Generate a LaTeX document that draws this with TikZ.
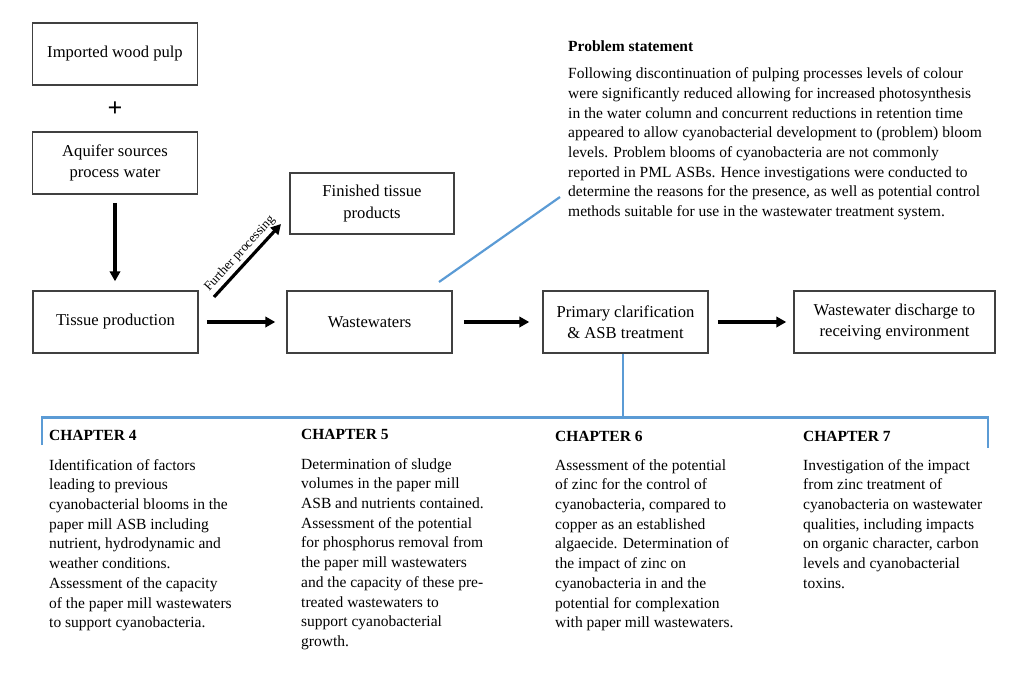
\documentclass[tikz,border=0pt]{standalone}
\usepackage{fontspec}
\setmainfont{Liberation Serif}
\usetikzlibrary{arrows.meta}
\definecolor{bluel}{HTML}{5B9BD5}
\definecolor{boxgray}{HTML}{404040}
\begin{document}
\begin{tikzpicture}[x=1pt,y=-1pt,
  procbox/.style={draw=boxgray,line width=1.5pt,align=center,inner sep=0pt,
    font=\fontsize{16.6}{21.5}\selectfont},
  flow/.style={line width=3.2pt,-{Triangle[length=10pt,width=10.5pt]}},
  blueline/.style={draw=bluel,line width=2.2pt},
  para/.style={anchor=north west,align=left,inner sep=0pt,
    font=\fontsize{15.5}{19.7}\selectfont},
  heading/.style={anchor=north west,inner sep=0pt,
    font=\fontsize{15.5}{19.7}\selectfont\bfseries}]
\useasboundingbox (0,0) rectangle (1027,674);

\node[procbox,minimum width=165pt,minimum height=62pt] (pulp) at (115,54) {Imported wood pulp};
\node[font=\fontsize{26}{26}\selectfont\bfseries] (plus) at (115,109) {+};
\node[procbox,minimum width=165pt,minimum height=62pt] (aquifer) at (115,163) {Aquifer sources\\process water};
\node[procbox,minimum width=165pt,minimum height=62pt] (tissue) at (115.5,322) {Tissue production};
\node[procbox,minimum width=164pt,minimum height=61pt] (finished) at (372,203.5) {Finished tissue\\products};
\node[procbox,minimum width=165pt,minimum height=62pt] (waste) at (369.5,322) {Wastewaters};
\node[procbox,minimum width=165pt,minimum height=62pt] (primary) at (625.5,322) {Primary clarification\\\& ASB treatment};
\node[procbox,minimum width=201pt,minimum height=62pt] (discharge) at (894.5,322) {Wastewater discharge to\\receiving environment};

\draw[flow,shorten <=8pt,shorten >=9pt] (aquifer.south) -- (aquifer.south |- tissue.north);
\draw[flow,shorten <=8pt,shorten >=11pt] (tissue) -- (waste);
\draw[flow,shorten <=11pt,shorten >=13pt] (waste) -- (primary);
\draw[flow,shorten <=9pt,shorten >=7pt] (primary) -- (discharge);

\coordinate (fp1) at (214,297);
\coordinate (fp2) at (281,224);
\draw[flow] (fp1) -- node[sloped,above=1.8pt,inner sep=1pt,font=\fontsize{13}{13}\selectfont] (fplabel) {Further processing} (fp2);

% problem statement
\node[heading] (pstitle) at (568,40.5) {Problem statement};
\node[para] (pstext) at (568,67.5) {Following discontinuation of pulping processes levels of colour\\
were significantly reduced allowing for increased photosynthesis\\
in the water column and concurrent reductions in retention time\\
appeared to allow cyanobacterial development to (problem) bloom\\
levels. Problem blooms of cyanobacteria are not commonly\\
reported in PML ASBs. Hence investigations were conducted to\\
determine the reasons for the presence, as well as potential control\\
methods suitable for use in the wastewater treatment system.};

\coordinate (ps1) at (439,282);
\coordinate (ps2) at (560,197);
\draw[blueline] (ps1) -- (ps2);

% bracket
\coordinate (brtop) at (623,417.5);
\coordinate (brl) at (42,417.5);
\coordinate (brr) at (988,417.5);
\coordinate (brlb) at (42,445);
\coordinate (brrb) at (988,448);
\draw[blueline] (primary.south -| brtop) -- (brtop);
\draw[blueline] (brlb) -- (brl) -- (brr) -- (brrb);

% chapters
\node[heading] (c4h) at (49,430.5) {CHAPTER 4};
\node[para] (c4t) at (49,459) {Identification of factors\\
leading to previous\\
cyanobacterial blooms in the\\
paper mill ASB including\\
nutrient, hydrodynamic and\\
weather conditions.\\
Assessment of the capacity\\
of the paper mill wastewaters\\
to support cyanobacteria.};

\node[heading] (c5h) at (301,429.5) {CHAPTER 5};
\node[para] (c5t) at (301,458) {Determination of sludge\\
volumes in the paper mill\\
ASB and nutrients contained.\\
Assessment of the potential\\
for phosphorus removal from\\
the paper mill wastewaters\\
and the capacity of these pre-\\
treated wastewaters to\\
support cyanobacterial\\
growth.};

\node[heading] (c6h) at (555,431) {CHAPTER 6};
\node[para] (c6t) at (555,459) {Assessment of the potential\\
of zinc for the control of\\
cyanobacteria, compared to\\
copper as an established\\
algaecide. Determination of\\
the impact of zinc on\\
cyanobacteria in and the\\
potential for complexation\\
with paper mill wastewaters.};

\node[heading] (c7h) at (803,431) {CHAPTER 7};
\node[para] (c7t) at (803,459) {Investigation of the impact\\
from zinc treatment of\\
cyanobacteria on wastewater\\
qualities, including impacts\\
on organic character, carbon\\
levels and cyanobacterial\\
toxins.};
\end{tikzpicture}
\end{document}
